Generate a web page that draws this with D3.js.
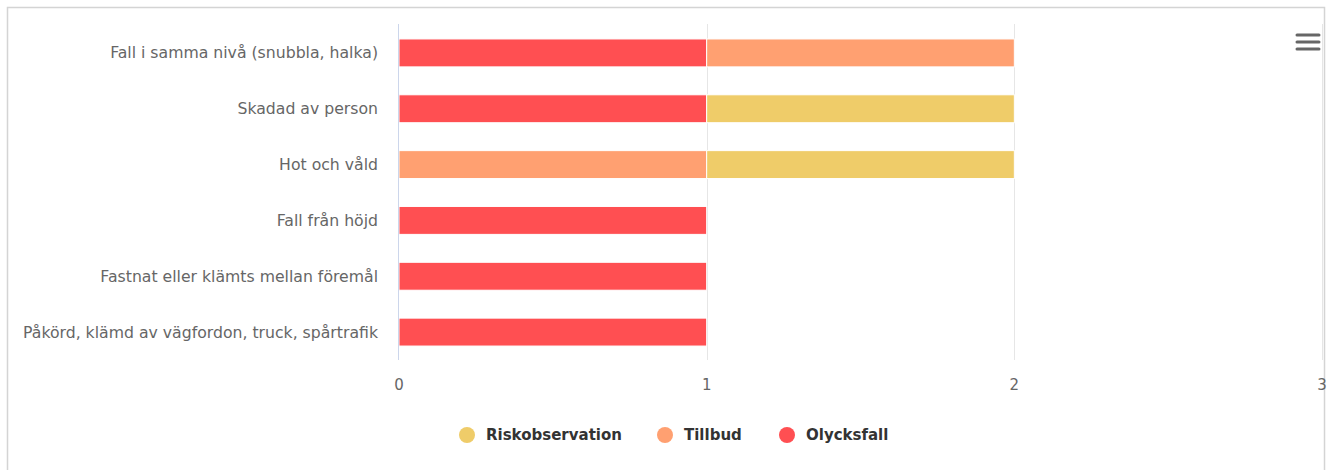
<!DOCTYPE html>
<html><head><meta charset="utf-8">
<script src="https://cdn.jsdelivr.net/npm/d3@7"></script>
<style>html,body{margin:0;padding:0;background:#fff;}svg{display:block;}</style>
</head><body>
<svg id="c" width="1327" height="470"></svg>
<script>
const categories = ["Fall i samma nivå (snubbla, halka)","Skadad av person","Hot och våld","Fall från höjd","Fastnat eller klämts mellan föremål","Påkörd, klämd av vägfordon, truck, spårtrafik"];
const seriesNames = ["Riskobservation","Tillbud","Olycksfall"];
const riskobservation = [0,1,1,0,0,0];
const tillbud = [1,0,1,0,0,0];
const olycksfall = [1,1,0,1,1,1];
const tickValues = [0,1,2,3];
const colors = ["#efcc69","#ffa071","#ff4f52"];

(function(){
const svg = d3.select("#c");
svg.append("rect").attr("x",7.5).attr("y",7.5).attr("width",1317).attr("height",470).attr("fill","none").attr("stroke","#d4d4d4").attr("stroke-width",1.5);

const pLeft=399, pRight=1322, pTop=25, pBottom=360;
const x = d3.scaleLinear().domain([0,3]).range([pLeft,pRight]);
const y = d3.scaleBand().domain(categories).range([pTop,pBottom]).paddingInner(0.5).paddingOuter(0.25);

svg.append("g").selectAll("line").data(tickValues.filter(d=>d>0)).join("line")
  .attr("x1",d=>Math.round(x(d))+0.5).attr("x2",d=>Math.round(x(d))+0.5)
  .attr("y1",pTop-1).attr("y2",pBottom).attr("stroke","#e6e6e6").attr("stroke-width",1);

const rows = categories.map((c,i)=>({cat:c, Riskobservation:riskobservation[i], Tillbud:tillbud[i], Olycksfall:olycksfall[i]}));
const stacked = d3.stack().keys(["Olycksfall","Tillbud","Riskobservation"])(rows);
const colorOf = {Riskobservation:colors[0],Tillbud:colors[1],Olycksfall:colors[2]};
const g = svg.append("g");
stacked.forEach(s=>{
  g.append("g").selectAll("rect").data(s.filter(d=>d[1]-d[0]>0)).join("rect")
    .attr("x",d=>x(d[0])).attr("width",d=>x(d[1])-x(d[0]))
    .attr("y",d=>y(d.data.cat)).attr("height",y.bandwidth())
    .attr("fill",colorOf[s.key]).attr("stroke","#fff").attr("stroke-width",1);
});

svg.append("line").attr("x1",pLeft-0.5).attr("x2",pLeft-0.5).attr("y1",pTop-1).attr("y2",pBottom).attr("stroke","#ccd6eb").attr("stroke-width",1);

svg.append("g").selectAll("text").data(categories).join("text")
  .attr("x",pLeft-21).attr("y",d=>y(d)+y.bandwidth()/2).attr("dy","0.35em")
  .attr("text-anchor","end").attr("font-family","DejaVu Sans, sans-serif").attr("font-size",15.7)
  .attr("fill","#666").text(d=>d);

svg.append("g").selectAll("text").data(tickValues).join("text")
  .attr("x",d=>x(d)).attr("y",389.5).attr("text-anchor","middle")
  .attr("font-family","DejaVu Sans, sans-serif").attr("font-size",15).attr("fill","#666").text(d=>d);

const legendX=[467,665,787];
const lg = svg.append("g");
seriesNames.forEach((n,i)=>{
  lg.append("circle").attr("cx",legendX[i]).attr("cy",435).attr("r",8).attr("fill",colors[i]);
  lg.append("text").attr("x",legendX[i]+19).attr("y",435).attr("dy","0.35em")
    .attr("font-family","DejaVu Sans, sans-serif").attr("font-size",15).attr("font-weight","bold").attr("fill","#333").text(n);
});

[35,42,49].forEach(yy=>{
  svg.append("line").attr("x1",1297).attr("x2",1319).attr("y1",yy).attr("y2",yy).attr("stroke","#666").attr("stroke-width",3).attr("stroke-linecap","round");
});
})();
</script>
</body></html>
